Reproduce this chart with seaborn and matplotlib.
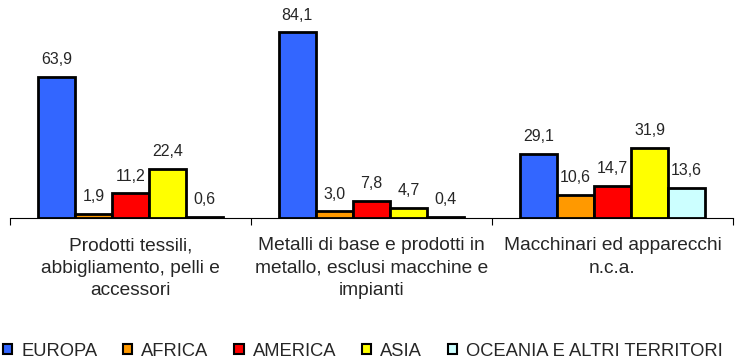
"""Export share by destination area for three manufacturing sectors."""
import matplotlib

matplotlib.use("Agg")

import matplotlib.pyplot as plt
import pandas as pd
import seaborn as sns
from matplotlib.patches import Patch

# Data
sectors = [
    "Prodotti tessili,\nabbigliamento, pelli e\naccessori",
    "Metalli di base e prodotti in\nmetallo, esclusi macchine e\nimpianti",
    "Macchinari ed apparecchi\nn.c.a.",
]
areas = ["EUROPA", "AFRICA", "AMERICA", "ASIA", "OCEANIA E ALTRI TERRITORI"]
europa = [63.9, 84.1, 29.1]
africa = [1.9, 3.0, 10.6]
america = [11.2, 7.8, 14.7]
asia = [22.4, 4.7, 31.9]
oceania = [0.6, 0.4, 13.6]
area_colors = ["#3366FF", "#FF9900", "#FF0000", "#FFFF00", "#CCFFFF"]

series = [europa, africa, america, asia, oceania]
rows = []
for area, values in zip(areas, series):
    for sector, v in zip(sectors, values):
        rows.append({"settore": sector, "area": area, "valore": v})
df = pd.DataFrame(rows)

sns.set_style("white")
plt.rcParams["font.family"] = ["Liberation Sans", "DejaVu Sans"]

fig = plt.figure(figsize=(7.36, 3.6), dpi=100)
# axes placed in pixel terms: baseline at y=218 px from the top
ax = fig.add_axes([10 / 736, (360 - 218) / 360, 723 / 736, 220.7 / 360])

sns.barplot(
    data=df,
    x="settore",
    y="valore",
    hue="area",
    hue_order=areas,
    order=sectors,
    palette=area_colors,
    width=0.77,
    edgecolor="black",
    linewidth=2,
    saturation=1,
    legend=False,
    ax=ax,
)

for container, values in zip(ax.containers, series):
    labels = [f"{v:.1f}".replace(".", ",") for v in values]
    ax.bar_label(container, labels=labels, padding=7, fontsize=11.5)

ax.set_xlim(-0.5, 2.5)
ax.set_ylim(0, 100)
ax.set_xlabel("")
ax.set_ylabel("")
ax.set_yticks([])

# boundary ticks between categories, labels centred on minor ticks
ax.set_xticks([-0.5, 0.5, 1.5, 2.5])
ax.set_xticklabels([])
ax.set_xticks([0, 1, 2], minor=True)
ax.set_xticklabels(sectors, minor=True, fontsize=13.8, linespacing=1.4)
ax.tick_params(axis="x", which="major", direction="out", length=5, width=0.8,
               color="black", bottom=True)
ax.tick_params(axis="x", which="minor", length=0, pad=14)

for side in ["left", "top", "right"]:
    ax.spines[side].set_visible(False)
ax.spines["bottom"].set_color("black")
ax.spines["bottom"].set_linewidth(0.8)

handles = [Patch(facecolor=c, edgecolor="black", linewidth=1.5) for c in area_colors]
fig.legend(
    handles,
    areas,
    loc="center left",
    bbox_to_anchor=(3 / 736, 9 / 360),
    ncol=5,
    frameon=False,
    fontsize=13.2,
    handlelength=0.5,
    handleheight=0.5,
    handletextpad=0.5,
    columnspacing=1.4,
    borderpad=0,
    borderaxespad=0,
)

fig.savefig("out.png", dpi=100)
